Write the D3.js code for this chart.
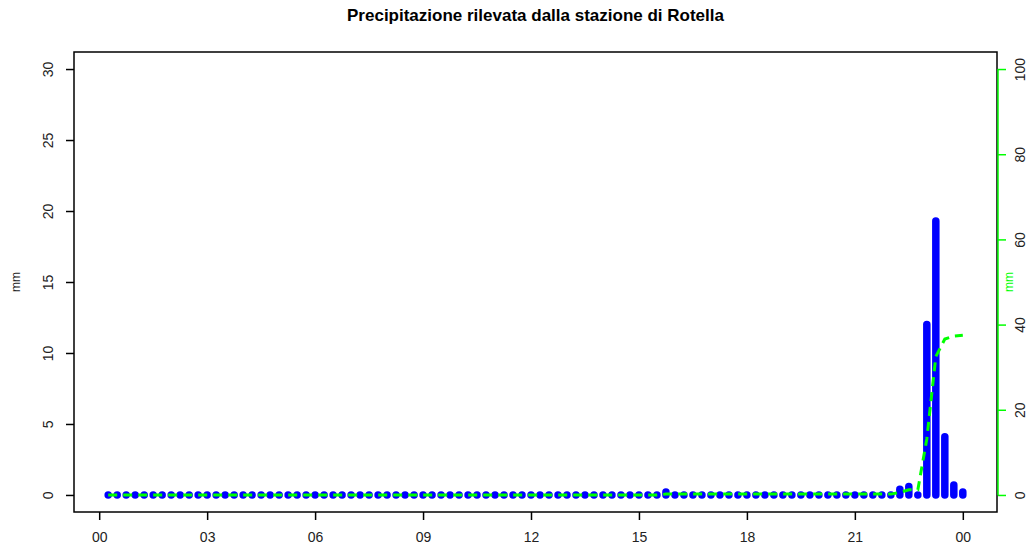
<!DOCTYPE html>
<html>
<head>
<meta charset="utf-8">
<script src="https://cdn.jsdelivr.net/npm/d3@7"></script>
<style>
  body { margin: 0; background: #fff; }
  svg { font-family: "Liberation Sans", Arial, sans-serif; }
</style>
</head>
<body>
<div id="chart"></div>
<script>
// orari di misura (ogni 15 minuti)
var orari = [
  "00:15","00:30","00:45","01:00","01:15","01:30","01:45","02:00","02:15","02:30","02:45","03:00",
  "03:15","03:30","03:45","04:00","04:15","04:30","04:45","05:00","05:15","05:30","05:45","06:00",
  "06:15","06:30","06:45","07:00","07:15","07:30","07:45","08:00","08:15","08:30","08:45","09:00",
  "09:15","09:30","09:45","10:00","10:15","10:30","10:45","11:00","11:15","11:30","11:45","12:00",
  "12:15","12:30","12:45","13:00","13:15","13:30","13:45","14:00","14:15","14:30","14:45","15:00",
  "15:15","15:30","15:45","16:00","16:15","16:30","16:45","17:00","17:15","17:30","17:45","18:00",
  "18:15","18:30","18:45","19:00","19:15","19:30","19:45","20:00","20:15","20:30","20:45","21:00",
  "21:15","21:30","21:45","22:00","22:15","22:30","22:45","23:00","23:15","23:30","23:45","24:00"
]

// pioggia in mm per intervallo
var pioggia = [
  0,0,0,0,0,0,0,0,0,0,0,0,
  0,0,0,0,0,0,0,0,0,0,0,0,
  0,0,0,0,0,0,0,0,0,0,0,0,
  0,0,0,0,0,0,0,0,0,0,0,0,
  0,0,0,0,0,0,0,0,0,0,0,0,
  0,0,0.2,0,0,0,0,0,0,0,0,0,
  0,0,0,0,0,0,0,0,0,0,0,0,
  0,0,0,0,0.4,0.6,0,12.0,19.3,4.1,0.7,0.2
]

var xTicks = [0, 3, 6, 9, 12, 15, 18, 21, 24]
var xTickLabels = ["00","03","06","09","12","15","18","21","00"]
var yTicks = [0, 5, 10, 15, 20, 25, 30]
var y2Ticks = [0, 20, 40, 60, 80, 100]
var titolo = "Precipitazione rilevata dalla stazione di Rotella"

var W = 1031, H = 552
var box = {left: 74, right: 997, top: 52, bottom: 512}

var ore = orari.map(function(s){ var p = s.split(':'); return +p[0] + p[1] / 60 })
var data = ore.map(function(o, i){ return {ora: o, mm: pioggia[i]} })
var cumulata = d3.cumsum(pioggia)

// estensione del 4% come in R
function pad(a, b){ var e = (b - a) * 0.04; return [a - e, b + e] }

var x = d3.scaleLinear().domain(pad(d3.min(ore), d3.max(ore))).range([box.left, box.right])
var y = d3.scaleLinear().domain(pad(0, 30)).range([box.bottom, box.top])
var y2 = d3.scaleLinear().domain(pad(0, 100)).range([box.bottom, box.top])

var svg = d3.select('#chart').append('svg').attr('width', W).attr('height', H)

svg.append('rect').attr('width', W).attr('height', H).attr('fill', '#fff')

// barre verticali (type="h")
svg.append('g').selectAll('path').data(data).join('path')
  .attr('d', function(d){ return 'M' + x(d.ora) + ',' + y(0) + 'L' + x(d.ora) + ',' + y(d.mm) })
  .attr('stroke', '#0000ff')
  .attr('stroke-width', 7.5)
  .attr('stroke-linecap', 'round')

// cumulata
var line = d3.line().x(function(d, i){ return x(ore[i]) }).y(function(d){ return y2(d) })
svg.append('path')
  .attr('d', line(cumulata))
  .attr('fill', 'none')
  .attr('stroke', '#00ff00')
  .attr('stroke-width', 3)
  .attr('stroke-dasharray', '9,6')

svg.append('rect')
  .attr('x', box.left).attr('y', box.top)
  .attr('width', box.right - box.left).attr('height', box.bottom - box.top)
  .attr('fill', 'none').attr('stroke', '#000').attr('stroke-width', 1.5)

// asse x
var gx = svg.append('g').attr('transform', 'translate(0,' + box.bottom + ')')
  .call(d3.axisBottom(x).tickValues(xTicks).tickSize(8).tickSizeOuter(0)
    .tickFormat(function(d, i){ return xTickLabels[i] }))
gx.select('.domain').remove()
gx.selectAll('line').attr('stroke', '#000').attr('stroke-width', 1.5)
gx.selectAll('text').attr('y', 30).attr('dy', 0).attr('fill', '#222').style('font-size', '14px')

// asse y sinistro
var gy = svg.append('g').attr('transform', 'translate(' + box.left + ',0)')
  .call(d3.axisLeft(y).tickValues(yTicks).tickSize(8).tickSizeOuter(0))
gy.select('.domain').remove()
gy.selectAll('line').attr('stroke', '#000').attr('stroke-width', 1.5)
gy.selectAll('text').attr('x', 0).attr('dy', 0).attr('text-anchor', 'middle')
  .attr('transform', 'translate(-21,0) rotate(-90)').attr('fill', '#222').style('font-size', '14px')

// asse y destro (cumulata)
var gy2 = svg.append('g').attr('transform', 'translate(' + (box.right + 1) + ',0)')
  .call(d3.axisRight(y2).tickValues(y2Ticks).tickSize(8).tickSizeOuter(0))
gy2.select('.domain').remove()
gy2.append('line').attr('y1', y2(0)).attr('y2', y2(100))
gy2.selectAll('line').attr('stroke', '#00ff00').attr('stroke-width', 1.5)
gy2.selectAll('text').attr('x', 0).attr('dy', 0).attr('text-anchor', 'middle')
  .attr('transform', 'translate(27,0) rotate(-90)').attr('fill', '#222').style('font-size', '14px')

var midY = (box.top + box.bottom) / 2
svg.append('text').attr('transform', 'translate(20,' + midY + ') rotate(-90)')
  .attr('text-anchor', 'middle').style('font-size', '12px').attr('fill', '#222').text('mm')
svg.append('text').attr('transform', 'translate(1013,' + midY + ') rotate(-90)')
  .attr('text-anchor', 'middle').style('font-size', '12px').attr('fill', '#00ff00').text('mm')

svg.append('text')
  .attr('x', (box.left + box.right) / 2).attr('y', 21)
  .attr('text-anchor', 'middle')
  .style('font-size', '17px').style('font-weight', 'bold')
  .text(titolo)
</script>
</body>
</html>
